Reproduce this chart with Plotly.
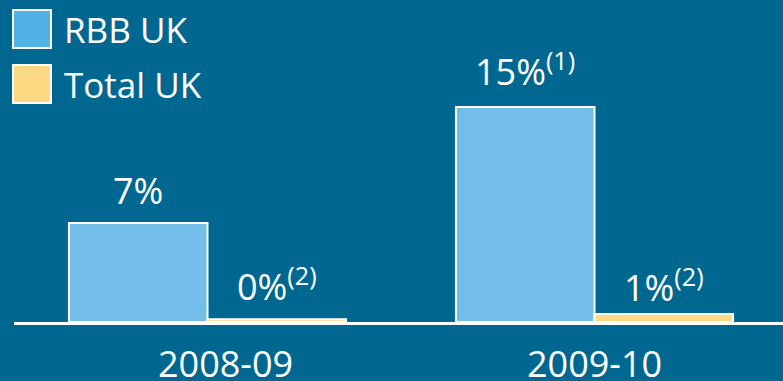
import plotly.graph_objects as go

# ---- data ----
categories = ["2008-09", "2009-10"]
series_names = ["RBB UK", "Total UK"]
rbb_values = [6.9, 15.0]
total_values = [0.2, 0.55]
rbb_labels = ["7%", "15%<sup>(1)</sup>"]
total_labels = ["0%<sup>(2)</sup>", "1%<sup>(2)</sup>"]

# ---- style ----
W, H = 783, 381
ML, MR, MT, MB = 14, 0, 0, 59
PW, PH = W - ML - MR, H - MT - MB
CAT_PX = 387.0
BARGAP = 0.284
BAR_PX = CAT_PX * (1 - BARGAP) / 2
BG = "#006890"
BAR_BLUE = "#72BEE8"
BAR_YELLOW = "#FDD982"
SW_BLUE = "#52B1E5"
SW_YELLOW = "#FCDA84"
FONT = "Open Sans"
FS = 36
PX_PER_UNIT = 14.33
rbb_label_lift = [6, 9]
total_label_lift = [6, 0]


def px_x(px):
    return (px - ML) / PW


def px_y(py):
    return (MT + PH - py) / PH


fig = go.Figure()
fig.add_trace(go.Bar(
    x=categories, y=rbb_values, name=series_names[0],
    marker=dict(color=BAR_BLUE, line=dict(color="white", width=2)),
    hoverinfo="skip",
))
fig.add_trace(go.Bar(
    x=categories, y=total_values, name=series_names[1],
    marker=dict(color=BAR_YELLOW, line=dict(color="white", width=2)),
    hoverinfo="skip",
))

shapes = []
annotations = []

# value labels
for vals, labs, lifts, side in [(rbb_values, rbb_labels, rbb_label_lift, -1),
                                (total_values, total_labels, total_label_lift, 1)]:
    for c, v, t, l in zip(categories, vals, labs, lifts):
        annotations.append(dict(xref="x", yref="y", x=c, y=v, xshift=side * BAR_PX / 2,
                                yshift=l, xanchor="center", yanchor="bottom",
                                showarrow=False, text=t,
                                font=dict(family=FONT, size=FS, color="white")))

# manual legend (large swatches)
swatches = [(SW_BLUE, 10, 48), (SW_YELLOW, 65, 103)]
for name, (col, y0, y1) in zip(series_names, swatches):
    shapes.append(dict(type="rect", xref="paper", yref="paper",
                       x0=px_x(13), x1=px_x(51), y0=px_y(y1), y1=px_y(y0),
                       fillcolor=col, line=dict(color="white", width=2)))
    annotations.append(dict(xref="paper", yref="paper", x=px_x(62), y=px_y((y0 + y1) / 2),
                            xanchor="left", yanchor="middle", showarrow=False,
                            text=name, font=dict(family=FONT, size=35, color="white")))

# category labels
cat_shift = [18, 0]
for c, s in zip(categories, cat_shift):
    annotations.append(dict(xref="x", yref="paper", x=c, y=px_y(363), xshift=s,
                            xanchor="center", yanchor="middle", showarrow=False,
                            text=c, font=dict(family=FONT, size=FS, color="white")))

fig.update_layout(
    width=W, height=H,
    margin=dict(l=ML, r=MR, t=MT, b=MB, pad=0),
    paper_bgcolor=BG, plot_bgcolor=BG,
    barmode="group", bargap=BARGAP, bargroupgap=0,
    showlegend=False,
    shapes=shapes, annotations=annotations,
    xaxis=dict(type="category", range=[-0.5, -0.5 + PW / CAT_PX],
               showline=True, linecolor="white", linewidth=3,
               showticklabels=False, ticks="", showgrid=False, zeroline=False),
    yaxis=dict(range=[0, PH / PX_PER_UNIT], visible=False, showgrid=False, zeroline=False),
)

fig.write_html("out.html", config={"displayModeBar": False},
               post_script="document.body.style.margin='0';document.body.style.overflow='hidden';")
